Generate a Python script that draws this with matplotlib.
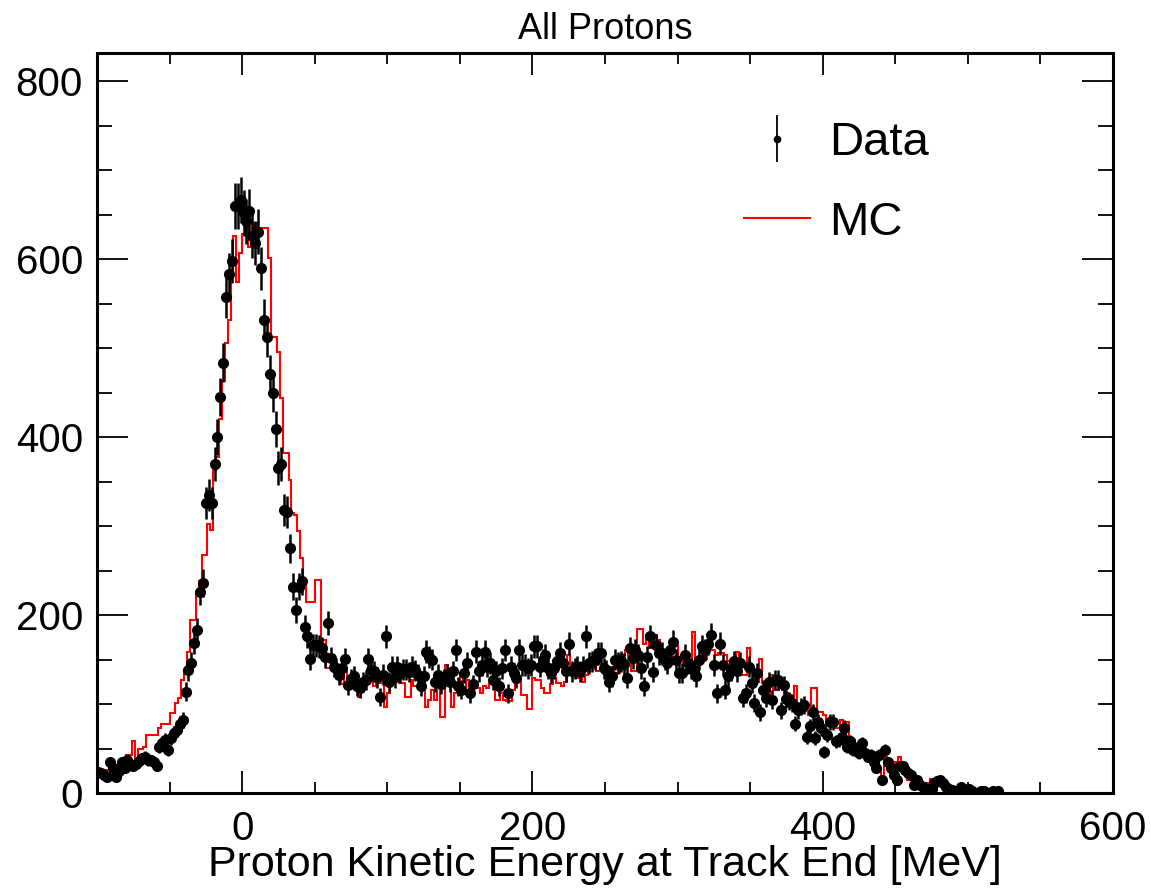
import numpy as np
import matplotlib
matplotlib.use("Agg")
import matplotlib.pyplot as plt
from matplotlib.lines import Line2D

plt.rcParams["font.family"] = ["Liberation Sans", "DejaVu Sans"]

# 2 MeV bins from -100 to 600 MeV
bin_lo, bin_hi, bin_w = -100, 600, 2

# data counts per bin, starting at the bin centred on -99 MeV
data_counts = [
    24, 22, 20, 18, 35, 28, 18, 25, 35, 28,
    37, 31, 30, 33, 36, 39, 41, 37, 37, 35,
    30, 52, 56, 60, 48, 62, 67, 71, 78, 82,
    114, 138, 146, 169, 183, 226, 236, 326, 335, 326,
    370, 400, 445, 484, 558, 583, 598, 660, 660, 667,
    652, 643, 654, 626, 618, 631, 590, 532, 513, 471,
    450, 409, 365, 370, 318, 316, 275, 232, 206, 232,
    238, 187, 176, 151, 166, 166, 165, 163, 153, 191,
    152, 142, 140, 133, 140, 151, 121, 128, 131, 120,
    118, 125, 127, 151, 138, 137, 130, 108, 133, 176,
    125, 142, 130, 142, 135, 139, 139, 136, 142, 138,
    133, 120, 131, 159, 153, 150, 125, 133, 122, 128,
    133, 125, 137, 161, 120, 116, 135, 146, 112, 122,
    159, 137, 144, 159, 142, 146, 127, 137, 120, 140,
    161, 112, 142, 135, 129, 161, 144, 144, 140, 144,
    165, 165, 142, 150, 155, 140, 135, 140, 148, 157,
    146, 137, 168, 137, 140, 142, 137, 142, 176, 146,
    148, 150, 157, 157, 140, 138, 125, 131, 150, 146,
    148, 145, 129, 163, 152, 161, 155, 140, 120, 153,
    176, 136, 166, 157, 157, 150, 146, 161, 170, 150,
    135, 135, 155, 146, 140, 138, 131, 150, 165, 161,
    168, 178, 144, 112, 168, 144, 116, 131, 138, 148,
    137, 146, 107, 112, 142, 124, 101, 135, 91, 116,
    107, 125, 105, 127, 127, 93, 121, 106, 103, 101,
    78, 93, 97, 99, 63, 75, 91, 62, 80, 73,
    46, 65, 80, 80, 58, 60, 63, 73, 52, 58,
    48, 50, 45, 56, 45, 41, 43, 35, 28, 43,
    15, 48, 35, 28, 20, 15, 30, 30, 26, 22,
    20, 9, 15, 9, 7, 5, 4, 5, 11, 13,
    15, 11, 7, 5, 3, 2, 0, 7, 5, 3,
    5, 2, 0, 0, 2, 2, 0, 0, 2, 0,
    2, 0, 0, 0, 0,
]

# MC (area normalised) per bin, same binning
mc_counts = [
    18, 18, 18, 26, 28, 31, 31, 31, 37, 37,
    43, 43, 58, 28, 50, 50, 52, 65, 65, 65,
    65, 73, 78, 78, 78, 90, 90, 101, 107, 127,
    138, 159, 195, 195, 225, 238, 268, 268, 303, 296,
    363, 378, 421, 463, 506, 532, 581, 626, 575, 607,
    629, 656, 614, 618, 641, 632, 635, 635, 635, 601,
    513, 513, 496, 444, 382, 382, 352, 315, 313, 295,
    264, 240, 215, 215, 215, 240, 240, 172, 172, 140,
    140, 153, 140, 140, 123, 140, 125, 118, 118, 116,
    108, 124, 124, 124, 133, 120, 124, 124, 129, 97,
    112, 129, 131, 131, 124, 124, 108, 108, 127, 120,
    120, 118, 118, 97, 105, 116, 105, 127, 86, 86,
    144, 137, 97, 112, 112, 133, 118, 127, 114, 114,
    125, 118, 112, 120, 118, 122, 122, 105, 105, 112,
    105, 103, 103, 116, 124, 127, 110, 110, 95, 95,
    129, 127, 127, 118, 112, 112, 122, 129, 124, 124,
    120, 125, 155, 135, 133, 129, 130, 125, 133, 137,
    142, 142, 137, 137, 144, 137, 137, 142, 135, 135,
    155, 155, 161, 151, 137, 137, 184, 184, 168, 178,
    163, 178, 178, 172, 161, 161, 150, 150, 165, 165,
    153, 150, 135, 144, 144, 181, 137, 153, 153, 151,
    165, 161, 161, 155, 157, 157, 155, 148, 137, 137,
    159, 150, 133, 133, 163, 135, 135, 125, 151, 124,
    124, 105, 133, 116, 116, 120, 116, 112, 110, 105,
    120, 100, 95, 100, 92, 88, 118, 118, 91, 91,
    88, 82, 84, 78, 73, 73, 82, 67, 80, 60,
    60, 43, 39, 41, 41, 43, 43, 33, 28, 28,
    18, 41, 33, 24, 30, 35, 41, 35, 28, 15,
    15, 15, 15, 12, 9, 11, 11, 16, 15, 15,
    15, 7, 5, 3, 5, 5, 2, 2, 2, 1,
]

edges = np.arange(bin_lo, bin_hi + bin_w, bin_w)
centers = edges[:-1] + bin_w / 2
nbins = len(centers)

data = np.zeros(nbins)
data[:len(data_counts)] = data_counts
mc = np.zeros(nbins)
mc[:len(mc_counts)] = mc_counts

fig = plt.figure(figsize=(11.51, 8.90), dpi=100)
ax = fig.add_axes([97 / 1151, 1 - 793 / 890, 1016 / 1151, 740 / 890])

ax.stairs(mc, edges, color="red", linewidth=1.5, baseline=0)

nz = data > 0
ax.errorbar(centers[nz], data[nz], yerr=np.sqrt(data[nz]), fmt="o",
            color="black", markersize=7, elinewidth=1.8, capsize=0)

ax.set_xlim(bin_lo, bin_hi)
ax.set_ylim(0, 832)

ax.set_xticks([0, 200, 400, 600])
ax.set_xticks(np.arange(-100, 601, 50), minor=True)
ax.set_yticks([0, 200, 400, 600, 800])
ax.set_yticks(np.arange(0, 831, 50), minor=True)
ax.tick_params(which="both", direction="in", top=True, right=True,
               labelsize=29, width=1.3, colors="black")
ax.tick_params(axis="x", which="major", length=16, pad=12)
ax.tick_params(axis="x", which="minor", length=8)
ax.tick_params(axis="y", which="major", length=22, pad=10)
ax.tick_params(axis="y", which="minor", length=11)
for s in ax.spines.values():
    s.set_linewidth(2.2)

ax.set_xlabel("Proton Kinetic Energy at Track End [MeV]", fontsize=31, labelpad=-2)
ax.set_title("All Protons", fontsize=26, pad=10)

data_handle = ax.errorbar([], [], yerr=[], fmt="o", color="black",
                          markersize=4.5, elinewidth=1.3, capsize=0)
mc_handle = Line2D([], [], color="red", linewidth=1.5)
ax.legend([data_handle, mc_handle], ["Data", "MC"], loc="upper left",
          bbox_to_anchor=(0.595, 0.965), frameon=False, fontsize=34,
          handlelength=1.4, handletextpad=0.4, labelspacing=0.75)

fig.savefig("out.png", dpi=100)
